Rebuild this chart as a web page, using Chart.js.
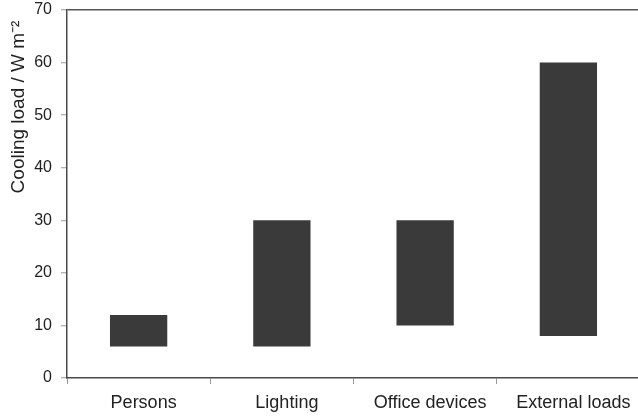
<!DOCTYPE html>
<html>
<head>
<meta charset="utf-8">
<script src="https://cdn.jsdelivr.net/npm/chart.js@4.4.1/dist/chart.umd.min.js"></script>
<style>
html,body{margin:0;padding:0;background:#fff;overflow:hidden;}
#wrap{width:638px;height:417px;overflow:hidden;}
</style>
</head>
<body>
<div id="wrap"><canvas id="c" width="640" height="417"></canvas></div>
<script>
const categories = ["Persons", "Lighting", "Office devices", "External loads"];
const lowValues = [6, 6, 10, 8];
const highValues = [12, 30, 30, 60];
const yTicks = [0, 10, 20, 30, 40, 50, 60, 70];
const yTitle = "Cooling load / W m\u207B\u00B2  ";

const ranges = categories.map((c, i) => [lowValues[i], highValues[i]]);
const FONT = "'Liberation Sans', Arial, Helvetica, sans-serif";

new Chart(document.getElementById('c'), {
  type: 'bar',
  data: {
    labels: categories,
    datasets: [{
      data: ranges,
      backgroundColor: '#3a3a3a',
      borderWidth: 0,
      barPercentage: 0.4,
      categoryPercentage: 1.0
    }]
  },
  options: {
    responsive: false,
    devicePixelRatio: 1,
    animation: false,
    layout: { padding: { top: 10, right: 0, left: 0, bottom: 0 } },
    plugins: { legend: { display: false }, tooltip: { enabled: false } },
    scales: {
      x: {
        offset: true,
        grid: {
          offset: true,
          drawOnChartArea: false,
          tickLength: 6,
          tickColor: '#999',
          tickWidth: 1
        },
        border: { color: '#4a4a4a', width: 1.5 },
        ticks: {
          color: '#222',
          font: { family: FONT, size: 18 },
          padding: 8,
          labelOffset: 5,
          maxRotation: 0
        },
        afterFit: s => { s.height = 39; s.paddingLeft = 0; s.paddingRight = 0; }
      },
      y: {
        min: 0,
        max: 70,
        afterBuildTicks: s => { s.ticks = yTicks.map(v => ({ value: v })); },
        grid: {
          drawOnChartArea: true,
          color: ctx => (ctx.tick && ctx.tick.value === 70) ? '#555' : 'rgba(0,0,0,0)',
          lineWidth: 1.5,
          tickLength: 6,
          tickColor: '#999',
          tickWidth: 1
        },
        border: { color: '#4a4a4a', width: 1.5 },
        ticks: {
          color: '#222',
          font: { family: FONT, size: 16 },
          padding: 9
        },
        title: {
          display: true,
          text: yTitle,
          align: 'end',
          color: '#222',
          font: { family: FONT, size: 19 },
          padding: { top: 7, bottom: 0 }
        },
        afterFit: s => { s.width = 67; s.paddingTop = 0; s.paddingBottom = 0; }
      }
    }
  }
});
</script>
</body>
</html>
